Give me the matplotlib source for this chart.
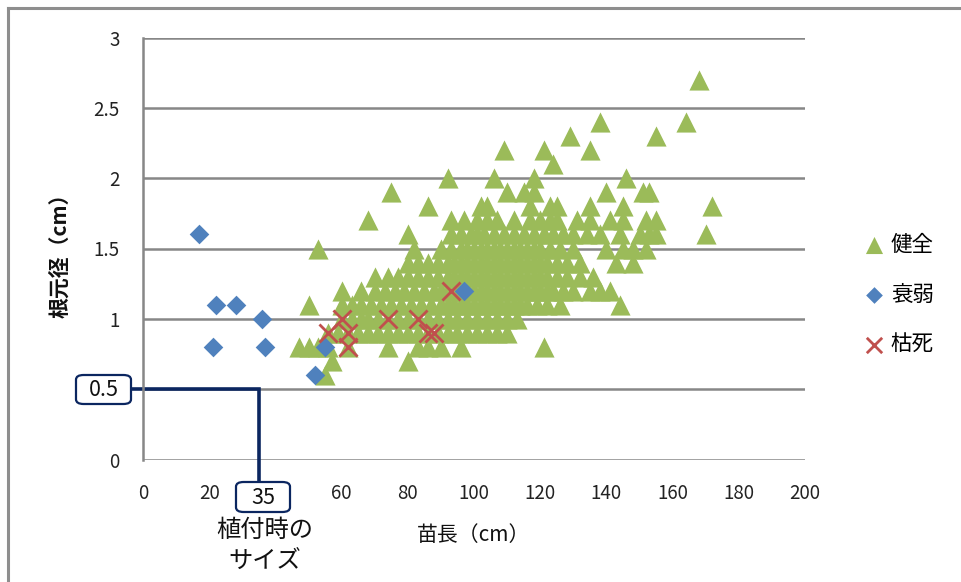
import matplotlib
matplotlib.use("Agg")
import matplotlib.pyplot as plt
from matplotlib.patches import FancyBboxPatch
from matplotlib.lines import Line2D

plt.rcParams['font.family'] = ['Noto Sans CJK JP', 'DejaVu Sans']

# Healthy seedlings: seedling lengths (cm) grouped by root-collar diameter (cm)
len_d06 = [55]
len_d07 = [57, 80]
len_d08 = [47, 50, 53, 56, 62, 74, 83, 86, 90, 96, 121]
len_d09 = [56, 59, 62, 65, 68, 71, 74, 77, 80, 83, 86, 89, 92, 95, 98, 101, 104, 107, 110]
len_d10 = [60, 63, 66, 68, 71, 74, 77, 80, 83, 86, 89, 92, 95, 98, 101, 104, 107, 110, 113]
len_d11 = [50, 60, 63, 66, 69, 72, 75, 78, 81, 84, 87, 90, 92, 94, 96, 98, 100, 102, 104,
           106, 108, 110, 112, 114, 116, 119, 122, 126, 144]
len_d12 = [60, 66, 70, 73, 76, 79, 82, 85, 88, 90, 92, 94, 96, 98, 100, 102, 104, 106, 108,
           110, 112, 114, 116, 118, 120, 122, 124, 127, 130, 135, 138, 141]
len_d13 = [70, 74, 77, 80, 83, 86, 89, 92, 94, 96, 98, 100, 102, 104, 106, 108, 110, 112,
           114, 116, 118, 120, 122, 125, 128, 132, 136]
len_d14 = [80, 83, 86, 89, 92, 94, 96, 98, 100, 102, 104, 106, 108, 110, 112, 114, 116, 118,
           120, 122, 125, 128, 132, 143, 148]
len_d15 = [53, 82, 90, 93, 96, 98, 100, 102, 104, 106, 108, 110, 112, 114, 116, 118, 120,
           123, 126, 130, 140, 145, 148, 152]
len_d16 = [80, 93, 96, 99, 101, 103, 106, 109, 112, 115, 118, 121, 124, 127, 130, 134, 138,
           144, 150, 153, 155, 170]
len_d17 = [68, 93, 97, 101, 104, 107, 112, 117, 120, 123, 125, 131, 135, 141, 145, 152, 155]
len_d18 = [86, 102, 104, 117, 123, 125, 135, 145, 172]
len_d19 = [75, 110, 115, 118, 140, 151, 153]
len_d20 = [92, 106, 118, 146]
len_d21 = [124]
len_d22 = [109, 121, 135]
len_d23 = [129, 155]
len_d24 = [138, 164]
len_d27 = [168]

healthy_rows = [
    (0.6, len_d06), (0.7, len_d07), (0.8, len_d08), (0.9, len_d09), (1.0, len_d10),
    (1.1, len_d11), (1.2, len_d12), (1.3, len_d13), (1.4, len_d14), (1.5, len_d15),
    (1.6, len_d16), (1.7, len_d17), (1.8, len_d18), (1.9, len_d19), (2.0, len_d20),
    (2.1, len_d21), (2.2, len_d22), (2.3, len_d23), (2.4, len_d24), (2.7, len_d27),
]
healthy_len = [x for _, xs in healthy_rows for x in xs]
healthy_dia = [d for d, xs in healthy_rows for _ in xs]

# Weakened seedlings
weak_len = [17, 22, 28, 36, 21, 37, 55, 52, 97]
weak_dia = [1.6, 1.1, 1.1, 1.0, 0.8, 0.8, 0.8, 0.6, 1.2]

# Dead seedlings
dead_len = [56, 60, 62, 62, 74, 83, 86, 88, 93]
dead_dia = [0.9, 1.0, 0.9, 0.8, 1.0, 1.0, 0.9, 0.9, 1.2]

series_labels = ['健全', '衰弱', '枯死']
x_ticks = [0, 20, 40, 60, 80, 100, 120, 140, 160, 180, 200]
x_tick_labels = ['0', '20', '', '60', '80', '100', '120', '140', '160', '180', '200']
y_ticks = [0, 0.5, 1, 1.5, 2, 2.5, 3]
y_tick_labels = ['0', '', '1', '1.5', '2', '2.5', '3']

# Size at planting
plant_len = 35
plant_dia = 0.5

W, H = 961, 582
fig = plt.figure(figsize=(W / 100, H / 100), dpi=100)
fig.patch.set_facecolor('white')


def fx(px):
    return px / W


def fy(py):
    return 1 - py / H


ax = fig.add_axes([fx(143), fy(459.5), fx(805) - fx(143), fy(37.5) - fy(459.5)])

grid_col = '#878787'
green = '#9BBB59'
blue = '#4F81BD'
red = '#C0504D'
navy = '#0B2660'

h1 = ax.scatter(healthy_len, healthy_dia, marker='^', s=14.5 ** 2, color=green,
                linewidths=0, zorder=3, label=series_labels[0])
h2 = ax.scatter(weak_len, weak_dia, marker='D', s=10 ** 2, color=blue,
                linewidths=0, zorder=4, label=series_labels[1])
h3 = ax.scatter(dead_len, dead_dia, marker='x', s=13 ** 2, color=red,
                linewidths=2.0, zorder=5, label=series_labels[2])

ax.set_xlim(0, 200)
ax.set_ylim(0, 3)
ax.set_xticks(x_ticks)
ax.set_xticklabels(x_tick_labels)
ax.set_yticks(y_ticks)
ax.set_yticklabels(y_tick_labels)
ax.tick_params(length=0, labelsize=13.5, colors='#222222', pad=17)
ax.yaxis.grid(True, color=grid_col, linewidth=1.8, zorder=1)
ax.set_axisbelow(True)
for side in ['top', 'right', 'bottom']:
    ax.spines[side].set_visible(False)
ax.spines['left'].set_color(grid_col)
ax.spines['left'].set_linewidth(1.8)

# Planting-size reference line
ax.plot([-12, plant_len, plant_len], [plant_dia, plant_dia, -0.27],
        color=navy, linewidth=2.6, clip_on=False, zorder=2,
        solid_joinstyle='miter')

# Axis titles
fig.text(fx(474), fy(535), '苗長（cm）', ha='center', va='center', fontsize=15,
         color='#111111')
fig.text(fx(60), fy(250), '根元径（cm）', ha='center', va='center', fontsize=15,
         rotation=90, fontweight='bold', color='#111111')

# Value boxes
for (x0, y0, x1, y1, txt) in [(76, 375, 131, 404, f'{plant_dia}'),
                              (236, 482, 290, 512, f'{plant_len}')]:
    box = FancyBboxPatch((fx(x0), fy(y1)), fx(x1) - fx(x0), fy(y0) - fy(y1),
                         boxstyle='round,pad=0,rounding_size=0.008',
                         transform=fig.transFigure, facecolor='white',
                         edgecolor=navy, linewidth=1.6, zorder=5)
    fig.patches.append(box)
    fig.text(fx((x0 + x1) / 2), fy((y0 + y1) / 2 + 1), txt, ha='center',
             va='center', fontsize=15.5, color='#111111', zorder=6)

fig.text(fx(265), fy(546), '植付時の\nサイズ', ha='center', va='center',
         fontsize=17.5, linespacing=1.3, color='#111111')

# Legend
leg = fig.legend(handles=[h1, h2, h3], labels=series_labels, loc='center left',
                 bbox_to_anchor=(fx(852), fy(295)), frameon=False, fontsize=15.5,
                 handlelength=1.0, handletextpad=0.3, labelspacing=1.3,
                 markerscale=0.85, borderpad=0)

# Outer frame (top and left edges)
fig.add_artist(Line2D([fx(8), fx(8)], [0, fy(8)], color='#8E8E8E', linewidth=2.2,
                      transform=fig.transFigure))
fig.add_artist(Line2D([fx(8), 1], [fy(8), fy(8)], color='#8E8E8E', linewidth=2.2,
                      transform=fig.transFigure))

fig.savefig('out.png', dpi=100, facecolor='white')
